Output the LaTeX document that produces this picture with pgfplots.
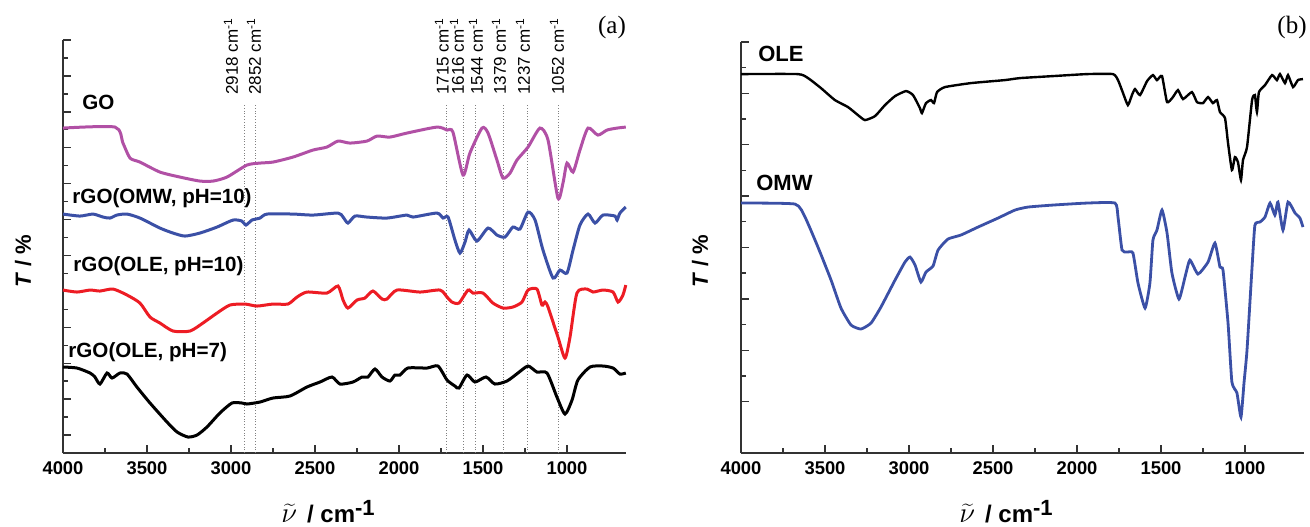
\documentclass[border=0pt]{standalone}
\usepackage{fontspec}
\setmainfont{Liberation Sans}
\newfontfamily\seriffont{Liberation Serif}
\usepackage{pgfplots}
\pgfplotsset{compat=1.18}

\definecolor{goPurple}{HTML}{B150A5}
\definecolor{omwBlue}{HTML}{3B50A6}
\definecolor{oleRed}{HTML}{ED1C24}
\definecolor{axisgray}{HTML}{333333}

\pgfplotsset{
  irplot/.style={
    scale only axis,
    anchor=south west,
    width=281.4pt,
    x dir=reverse,
    xmin=650, xmax=4000,
    ymin=0,
    xtick={1000,1500,...,4000},
    minor x tick num=1,
    axis x line=bottom,
    axis y line=left,
    axis line style={-, line width=0.8pt, color=axisgray},
    tick style={line width=0.7pt, color=axisgray},
    major tick length=4pt,
    minor tick length=2.5pt,
    tick align=inside,
    yticklabels={},
    clip=false,
    scaled x ticks=false,
    xticklabel style={font=\bfseries\fontsize{9.2}{10}\selectfont, yshift=-1pt},
    /pgf/number format/assume math mode=true,
    /pgf/number format/set thousands separator={},
  },
}
\tikzset{
  peak/.style={rotate=90, anchor=west, inner sep=0pt, font=\fontsize{8.5}{9}\selectfont},
  serieslabel/.style={anchor=west, inner sep=0pt, font=\bfseries\fontsize{10.3}{12}\selectfont},
}

\begin{document}
\begin{tikzpicture}
\path[use as bounding box] (0,0) rectangle (655pt,263pt);

% (a) reduced graphene oxide samples
\begin{axis}[irplot, at={(31.5pt,36.5pt)}, height=206.5pt,
  ymax=413.1, ytick={17.96,53.88,...,413.1}, minor y tick num=1]

\foreach \w in {2918,2852,1715,1616,1544,1379,1237,1052}{
  \edef\tmp{\noexpand\draw[densely dotted, line width=0.4pt, gray] (axis cs:\w,0) -- (axis cs:\w,349);}
  \tmp
}

\addplot[goPurple, line width=1.5pt, smooth, tension=0.4] coordinates {
(4000,325) (3690,326) (3643,310) (3601,295) (3542,291) (3423,281) (3304,276)
(3185,272) (3107,272) (3024,276) (2905,288) (2827,290) (2750,291) (2631,296)
(2512,303) (2429,306) (2363,312) (2292,310) (2191,312) (2131,317) (2054,316)
(1953,320) (1774,326) (1714,323) (1679,321) (1619,278) (1578,300) (1506,325)
(1470,320) (1417,293) (1381,275) (1339,280) (1298,293) (1232,306) (1161,325)
(1113,313) (1054,255) (1024,270) (1000,290) (964,281) (923,303) (875,325)
(816,318) (762,323) (702,325) (650,326)
};

\addplot[omwBlue, line width=1.5pt, smooth, tension=0.4] coordinates {
(4000,239) (3899,237) (3821,239) (3762,236) (3720,235) (3679,238) (3619,239)
(3542,235) (3423,225) (3345,220) (3274,217) (3185,220) (3083,226) (2988,233)
(2935,232) (2911,228) (2875,233) (2827,235) (2786,239) (2631,239) (2512,238)
(2363,240) (2333,236) (2304,230) (2262,237) (2191,236) (2072,235) (1953,238)
(1917,236) (1774,240) (1738,235) (1708,236) (1667,213) (1637,200) (1607,211)
(1583,223) (1536,212) (1470,225) (1417,218) (1369,216) (1322,226) (1280,224)
(1232,241) (1190,233) (1143,203) (1083,175) (1042,183) (1000,180) (964,203)
(923,228) (875,239) (833,230) (786,238) (714,237) (702,233) (685,240) (650,246)
};

\addplot[oleRed, line width=1.5pt, smooth, tension=0.4] coordinates {
(4000,163) (3917,161) (3839,163) (3780,162) (3702,164) (3619,158) (3542,150)
(3482,136) (3423,130) (3345,122) (3244,122) (3167,130) (3083,140) (3006,148)
(2917,149) (2845,147) (2750,149) (2661,149) (2607,156) (2548,161) (2429,160)
(2363,167) (2333,153) (2304,145) (2250,153) (2203,155) (2155,162) (2101,154)
(2072,154) (2012,163) (1875,161) (1756,163) (1714,156) (1685,151) (1643,150)
(1589,163) (1560,160) (1500,160) (1441,150) (1381,145) (1322,146) (1268,151)
(1232,163) (1179,164) (1149,148) (1131,151) (1113,146) (1054,116) (1012,95)
(982,116) (941,160) (881,164) (845,161) (786,163) (726,161) (696,151)
(667,158) (650,168)
};

\addplot[black, line width=1.5pt, smooth, tension=0.4] coordinates {
(4000,86) (3917,85) (3839,80) (3810,76) (3780,69) (3738,80) (3708,75)
(3661,80) (3619,79) (3560,66) (3482,50) (3381,31) (3321,21) (3256,16)
(3202,18) (3143,26) (3066,40) (2994,50) (2935,50) (2905,49) (2827,51)
(2750,55) (2649,57) (2548,66) (2470,71) (2399,76) (2351,69) (2274,71)
(2220,76) (2185,76) (2143,84) (2101,76) (2054,72) (2024,78) (1994,78)
(1947,85) (1833,85) (1768,87) (1714,73) (1667,67) (1643,65) (1595,78)
(1548,71) (1482,76) (1429,69) (1357,72) (1292,80) (1232,87) (1179,81)
(1119,80) (1060,56) (1012,39) (970,53) (935,73) (863,86) (786,87)
(726,85) (685,79) (650,80)
};

\node[serieslabel] at (axis cs:3887,351) {GO};
\node[serieslabel] at (axis cs:3946,255) {rGO(OMW, pH=10)};
\node[serieslabel] at (axis cs:3940,187) {rGO(OLE, pH=10)};
\node[serieslabel] at (axis cs:3970,101) {rGO(OLE, pH=7)};

\node[peak] at (axis cs:3000,358) {2918 cm\textsuperscript{-1}};
\node[peak] at (axis cs:2863,358) {2852 cm\textsuperscript{-1}};
\node[peak] at (axis cs:1745,358) {1715 cm\textsuperscript{-1}};
\node[peak] at (axis cs:1655,358) {1616 cm\textsuperscript{-1}};
\node[peak] at (axis cs:1542,358) {1544 cm\textsuperscript{-1}};
\node[peak] at (axis cs:1405,358) {1379 cm\textsuperscript{-1}};
\node[peak] at (axis cs:1262,358) {1237 cm\textsuperscript{-1}};
\node[peak] at (axis cs:1060,358) {1052 cm\textsuperscript{-1}};
\end{axis}

% (b) olive leaf extract and olive mill wastewater
\begin{axis}[irplot, at={(370.5pt,36.5pt)}, height=205.6pt,
  ymax=411.3, ytick={51.4,102.8,...,411.3}, minor y tick num=1]

\addplot[black, line width=1.2pt, smooth, tension=0.3] coordinates {
(4000,379) (3661,379) (3601,375) (3524,365) (3441,353) (3363,346) (3304,338)
(3262,333) (3202,337) (3143,348) (3083,357) (3018,362) (2976,358) (2935,345)
(2923,340) (2899,350) (2869,353) (2851,350) (2833,361) (2786,366) (2631,370)
(2429,373) (2339,375) (2143,377) (1941,379) (1786,379) (1756,373) (1726,360)
(1697,348) (1673,358) (1655,364) (1625,358) (1583,372) (1548,378) (1524,373)
(1494,377) (1464,351) (1429,356) (1399,363) (1369,354) (1316,361) (1286,351)
(1250,350) (1220,356) (1191,350) (1167,353) (1149,341) (1119,335) (1101,310)
(1078,283) (1060,296) (1042,291) (1024,273) (1012,293) (988,306) (958,353)
(941,358) (929,341) (917,361) (881,368) (839,378) (810,373) (792,379)
(762,370) (744,378) (714,366) (685,373) (655,374)
};

\addplot[omwBlue, line width=1.4pt, smooth, tension=0.3] coordinates {
(4000,250) (3679,249) (3619,236) (3542,206) (3464,173) (3405,145) (3345,128)
(3286,124) (3226,130) (3167,146) (3083,173) (3024,191) (2994,196) (2964,188)
(2929,171) (2899,181) (2857,187) (2827,203) (2768,214) (2691,218) (2589,226)
(2470,235) (2369,243) (2292,246) (2143,248) (1941,250) (1774,250) (1756,236)
(1732,203) (1702,201) (1667,200) (1637,170) (1595,145) (1566,170) (1548,213)
(1524,223) (1494,243) (1464,220) (1435,180) (1393,154) (1357,176) (1328,193)
(1280,179) (1220,191) (1179,210) (1149,186) (1131,183) (1101,130) (1078,71)
(1048,60) (1024,36) (1006,70) (988,103) (958,186) (941,228) (911,231)
(881,236) (851,250) (822,238) (804,251) (774,223) (744,251) (702,240)
(673,235) (655,226)
};

\node[anchor=west, inner sep=0pt, font=\bfseries\fontsize{11}{12}\selectfont] at (axis cs:3899,399) {OLE};
\node[anchor=west, inner sep=0pt, font=\bfseries\fontsize{11}{12}\selectfont] at (axis cs:3911,270) {OMW};
\end{axis}

% axis titles and panel letters
\node[rotate=90, font=\bfseries\fontsize{11}{12}\selectfont] at (11.5pt,132.5pt) {\textit{T} / \%};
\node[rotate=90, font=\bfseries\fontsize{11}{12}\selectfont] at (350pt,132.5pt) {\textit{T} / \%};
\node[anchor=base, inner sep=0pt, font=\bfseries\fontsize{12}{13}\selectfont] at (164pt,2pt)
  {{\fontsize{15}{16}\selectfont$\widetilde{\nu}$}\hspace{5pt}/ cm\raisebox{0.55ex}{\fontsize{11}{12}\selectfont -1}};
\node[anchor=base, inner sep=0pt, font=\bfseries\fontsize{12}{13}\selectfont] at (503pt,2pt)
  {{\fontsize{15}{16}\selectfont$\widetilde{\nu}$}\hspace{5pt}/ cm\raisebox{0.55ex}{\fontsize{11}{12}\selectfont -1}};
\node[font=\seriffont\fontsize{12.5}{13}\selectfont] at (306pt,249.5pt) {(a)};
\node[font=\seriffont\fontsize{12.5}{13}\selectfont] at (646pt,249.5pt) {(b)};
\end{tikzpicture}
\end{document}
